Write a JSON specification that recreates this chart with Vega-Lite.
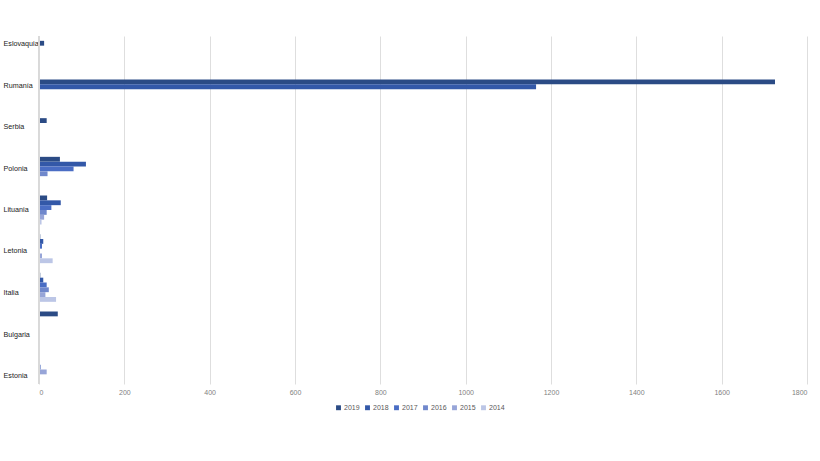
{
  "$schema": "https://vega.github.io/schema/vega-lite/v6.json",
  "width": 768,
  "height": 348,
  "padding": {"left": 3, "top": 35, "right": 5, "bottom": 5},
  "background": "white",
  "data": {
    "values": [
      {"pais": "Eslovaquia", "anio": "2019", "valor": 12},
      {"pais": "Rumanía", "anio": "2019", "valor": 1725},
      {"pais": "Rumanía", "anio": "2018", "valor": 1165},
      {"pais": "Serbia", "anio": "2019", "valor": 18},
      {"pais": "Polonia", "anio": "2019", "valor": 49},
      {"pais": "Polonia", "anio": "2018", "valor": 110},
      {"pais": "Polonia", "anio": "2017", "valor": 81},
      {"pais": "Polonia", "anio": "2016", "valor": 20},
      {"pais": "Lituania", "anio": "2019", "valor": 19},
      {"pais": "Lituania", "anio": "2018", "valor": 51},
      {"pais": "Lituania", "anio": "2017", "valor": 29},
      {"pais": "Lituania", "anio": "2016", "valor": 18},
      {"pais": "Lituania", "anio": "2015", "valor": 12},
      {"pais": "Lituania", "anio": "2014", "valor": 6},
      {"pais": "Letonia", "anio": "2019", "valor": 3},
      {"pais": "Letonia", "anio": "2018", "valor": 10},
      {"pais": "Letonia", "anio": "2017", "valor": 7},
      {"pais": "Letonia", "anio": "2016", "valor": 2},
      {"pais": "Letonia", "anio": "2015", "valor": 7},
      {"pais": "Letonia", "anio": "2014", "valor": 32},
      {"pais": "Italia", "anio": "2019", "valor": 3},
      {"pais": "Italia", "anio": "2018", "valor": 10},
      {"pais": "Italia", "anio": "2017", "valor": 18},
      {"pais": "Italia", "anio": "2016", "valor": 23},
      {"pais": "Italia", "anio": "2015", "valor": 15},
      {"pais": "Italia", "anio": "2014", "valor": 40},
      {"pais": "Bulgaria", "anio": "2019", "valor": 44},
      {"pais": "Estonia", "anio": "2017", "valor": 2},
      {"pais": "Estonia", "anio": "2016", "valor": 4},
      {"pais": "Estonia", "anio": "2015", "valor": 18}
    ]
  },
  "layer": [
    {
      "mark": {"type": "bar"},
      "encoding": {
        "x": {
          "field": "valor",
          "type": "quantitative",
          "title": null,
          "scale": {"domain": [0, 1800], "nice": false},
          "axis": {
            "values": [0, 200, 400, 600, 800, 1000, 1200, 1400, 1600, 1800],
            "format": "d",
            "domain": false,
            "ticks": false,
            "grid": true,
            "gridColor": "#dedede",
            "labelPadding": 4,
            "labelFont": "Liberation Sans",
            "labelFontSize": 7,
            "labelColor": "#7f7f7f"
          }
        },
        "y": {
          "field": "pais",
          "type": "nominal",
          "title": null,
          "sort": ["Eslovaquia", "Rumanía", "Serbia", "Polonia", "Lituania", "Letonia", "Italia", "Bulgaria", "Estonia"],
          "scale": {"paddingInner": 0.25, "paddingOuter": 0.125},
          "axis": {
            "ticks": false,
            "domain": false,
            "labelAlign": "left",
            "labelPadding": 36,
            "labelFont": "Liberation Sans",
            "labelFontSize": 7.2,
            "labelColor": "#1a1a1a",
            "labelOffset": {
              "condition": [
                {"test": "datum.value === 'Eslovaquia'", "value": -11},
                {"test": "datum.value === 'Rumanía'", "value": -8.5},
                {"test": "datum.value === 'Serbia'", "value": -5.6},
                {"test": "datum.value === 'Polonia'", "value": -2.8},
                {"test": "datum.value === 'Letonia'", "value": 2.8},
                {"test": "datum.value === 'Italia'", "value": 5.7},
                {"test": "datum.value === 'Bulgaria'", "value": 8.5},
                {"test": "datum.value === 'Estonia'", "value": 11.3}
              ],
              "value": 0
            }
          }
        },
        "yOffset": {
          "field": "anio",
          "type": "nominal",
          "scale": {"domain": ["2019", "2018", "2017", "2016", "2015", "2014"], "paddingInner": 0}
        },
        "color": {
          "field": "anio",
          "type": "nominal",
          "title": null,
          "scale": {
            "domain": ["2019", "2018", "2017", "2016", "2015", "2014"],
            "range": ["#2b4b85", "#3358a8", "#4a6dc4", "#7088cc", "#97a5d8", "#bcc6e6"]
          },
          "legend": {
            "orient": "none",
            "legendX": 296,
            "legendY": 368,
            "direction": "horizontal",
            "symbolType": "square",
            "symbolSize": 24,
            "symbolStrokeWidth": 0,
            "labelFont": "Liberation Sans",
            "labelFontSize": 7,
            "labelColor": "#595959",
            "labelOffset": 2,
            "columnPadding": 4
          }
        }
      }
    },
    {
      "mark": {"type": "rule", "color": "#d9d9d9"},
      "encoding": {"x": {"datum": 0}}
    }
  ],
  "config": {"view": {"stroke": null}}
}
